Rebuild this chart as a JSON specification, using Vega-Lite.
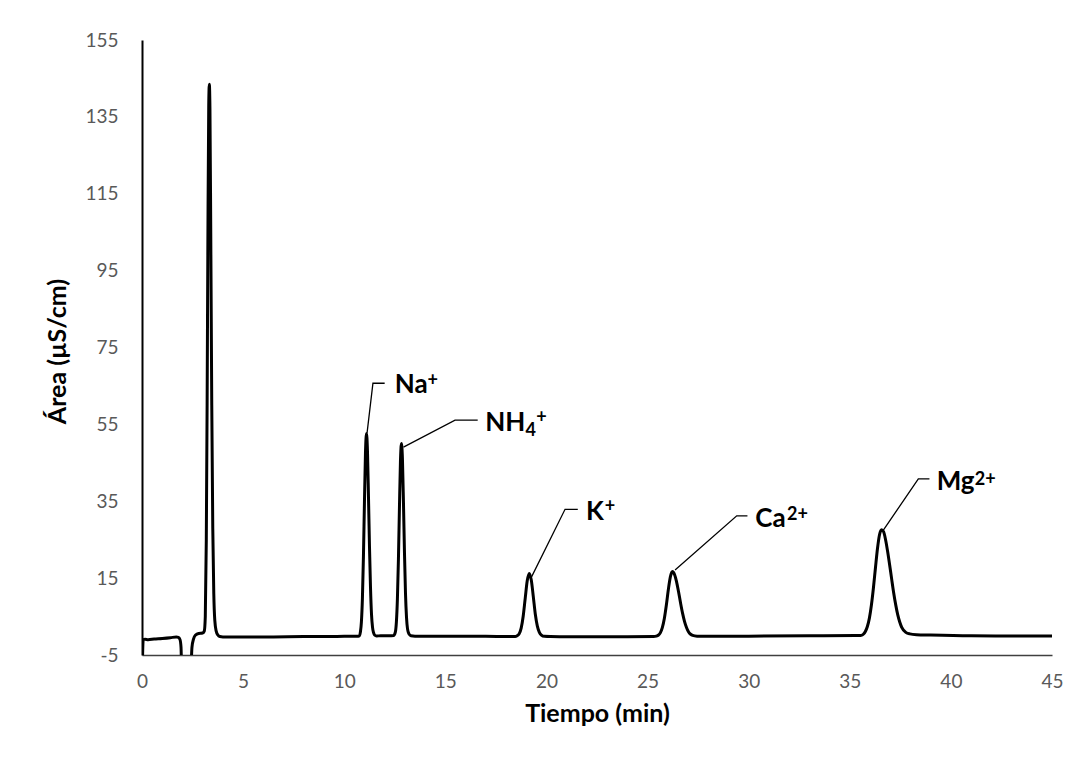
{
  "$schema": "https://vega.github.io/schema/vega-lite/v6.json",
  "width": 910,
  "height": 615,
  "autosize": {"type": "none"},
  "padding": {"left": 142, "top": 40, "right": 26, "bottom": 111},
  "background": "white",
  "config": {"view": {"stroke": null}, "font": "Lato"},
  "datasets": {
    "trace": [
      {"t": 0.02, "v": -7}, {"t": 0.06, "v": -1.0}, {"t": 0.15, "v": -0.9}, {"t": 0.3, "v": -1.0},
      {"t": 0.6, "v": -0.85}, {"t": 1.0, "v": -0.7}, {"t": 1.4, "v": -0.5}, {"t": 1.7, "v": -0.3},
      {"t": 1.8, "v": -0.4}, {"t": 1.88, "v": -1.0}, {"t": 1.93, "v": -3}, {"t": 1.96, "v": -8},
      {"t": 2.42, "v": -8}, {"t": 2.47, "v": -3}, {"t": 2.55, "v": -0.8}, {"t": 2.65, "v": 0.2},
      {"t": 2.8, "v": 0.6}, {"t": 3.0, "v": 0.7}, {"t": 3.08, "v": 1.2}, {"t": 3.13, "v": 5},
      {"t": 3.18, "v": 25}, {"t": 3.22, "v": 60}, {"t": 3.26, "v": 105}, {"t": 3.3, "v": 138},
      {"t": 3.33, "v": 143.5}, {"t": 3.36, "v": 137}, {"t": 3.4, "v": 105}, {"t": 3.45, "v": 60},
      {"t": 3.5, "v": 28}, {"t": 3.55, "v": 11}, {"t": 3.6, "v": 4}, {"t": 3.67, "v": 1.2},
      {"t": 3.75, "v": 0.2}, {"t": 3.85, "v": -0.2}, {"t": 4.0, "v": -0.3}, {"t": 6.0, "v": -0.3},
      {"t": 8.0, "v": -0.2}, {"t": 10.0, "v": -0.15}, {"t": 10.6, "v": -0.1}, {"t": 10.7, "v": -0.1},
      {"t": 10.75, "v": 0.0}, {"t": 10.8, "v": 1.0}, {"t": 10.85, "v": 3.6}, {"t": 10.9, "v": 9.8},
      {"t": 10.95, "v": 20.6}, {"t": 11.0, "v": 34.7}, {"t": 11.05, "v": 47.4}, {"t": 11.1, "v": 52.6},
      {"t": 11.15, "v": 48}, {"t": 11.2, "v": 36}, {"t": 11.25, "v": 23}, {"t": 11.3, "v": 12.5},
      {"t": 11.35, "v": 5.5}, {"t": 11.4, "v": 2.2}, {"t": 11.45, "v": 0.8}, {"t": 11.5, "v": 0.2},
      {"t": 11.6, "v": -0.05}, {"t": 11.8, "v": 0.0}, {"t": 12.2, "v": 0.0}, {"t": 12.45, "v": 0.1},
      {"t": 12.53, "v": 1.0}, {"t": 12.58, "v": 3.6}, {"t": 12.63, "v": 9.6}, {"t": 12.68, "v": 19.8},
      {"t": 12.73, "v": 33.2}, {"t": 12.78, "v": 45.3}, {"t": 12.83, "v": 50}, {"t": 12.88, "v": 45.8},
      {"t": 12.93, "v": 34.5}, {"t": 12.98, "v": 21.5}, {"t": 13.03, "v": 11}, {"t": 13.08, "v": 4.8},
      {"t": 13.13, "v": 1.8}, {"t": 13.2, "v": 0.5}, {"t": 13.3, "v": 0.0}, {"t": 13.5, "v": -0.1},
      {"t": 15.0, "v": -0.1}, {"t": 17.0, "v": -0.15}, {"t": 18.45, "v": -0.2}, {"t": 18.55, "v": 0.0},
      {"t": 18.65, "v": 0.5}, {"t": 18.75, "v": 2.0}, {"t": 18.85, "v": 5.1}, {"t": 18.95, "v": 9.75},
      {"t": 19.05, "v": 14.3}, {"t": 19.15, "v": 16.2}, {"t": 19.25, "v": 14.5}, {"t": 19.35, "v": 10.2},
      {"t": 19.45, "v": 5.6}, {"t": 19.55, "v": 2.5}, {"t": 19.65, "v": 0.9}, {"t": 19.75, "v": 0.2},
      {"t": 19.9, "v": -0.15}, {"t": 20.2, "v": -0.2}, {"t": 22.0, "v": -0.25}, {"t": 24.0, "v": -0.25},
      {"t": 25.3, "v": -0.2}, {"t": 25.43, "v": -0.1}, {"t": 25.53, "v": 0.13}, {"t": 25.63, "v": 0.75},
      {"t": 25.73, "v": 2.1}, {"t": 25.83, "v": 4.5}, {"t": 25.93, "v": 8.0}, {"t": 26.03, "v": 12.1},
      {"t": 26.13, "v": 15.4}, {"t": 26.23, "v": 16.7}, {"t": 26.33, "v": 16.0}, {"t": 26.43, "v": 14.15},
      {"t": 26.53, "v": 11.5}, {"t": 26.63, "v": 8.6}, {"t": 26.73, "v": 5.9}, {"t": 26.83, "v": 3.7},
      {"t": 26.93, "v": 2.1}, {"t": 27.03, "v": 1.0}, {"t": 27.13, "v": 0.4}, {"t": 27.23, "v": 0.1},
      {"t": 27.45, "v": -0.1}, {"t": 27.8, "v": -0.15}, {"t": 30.0, "v": -0.1}, {"t": 33.0, "v": 0.0},
      {"t": 35.3, "v": 0.1}, {"t": 35.47, "v": 0.05}, {"t": 35.57, "v": 0.1}, {"t": 35.67, "v": 0.4},
      {"t": 35.77, "v": 1.1}, {"t": 35.87, "v": 2.4}, {"t": 35.97, "v": 4.6}, {"t": 36.07, "v": 8.0},
      {"t": 36.17, "v": 12.5}, {"t": 36.27, "v": 17.7}, {"t": 36.37, "v": 22.7}, {"t": 36.47, "v": 26.3},
      {"t": 36.57, "v": 27.6}, {"t": 36.67, "v": 27.1}, {"t": 36.77, "v": 25.0}, {"t": 36.87, "v": 22.0},
      {"t": 36.97, "v": 18.5}, {"t": 37.07, "v": 14.8}, {"t": 37.17, "v": 11.2}, {"t": 37.27, "v": 8.1},
      {"t": 37.37, "v": 5.5}, {"t": 37.47, "v": 3.6}, {"t": 37.57, "v": 2.2}, {"t": 37.77, "v": 0.9},
      {"t": 37.97, "v": 0.5}, {"t": 38.3, "v": 0.3}, {"t": 39.0, "v": 0.2}, {"t": 41.0, "v": 0.0},
      {"t": 43.0, "v": -0.05}, {"t": 45.0, "v": -0.05}
    ],
    "leaders": [
      {"ion": "Na", "seq": 1, "x": 11.13, "y": 52.8}, {"ion": "Na", "seq": 2, "x": 11.42, "y": 65.7}, {"ion": "Na", "seq": 3, "x": 12.0, "y": 65.7},
      {"ion": "NH4", "seq": 1, "x": 12.93, "y": 49.1}, {"ion": "NH4", "seq": 2, "x": 15.48, "y": 56.1}, {"ion": "NH4", "seq": 3, "x": 16.6, "y": 56.1},
      {"ion": "K", "seq": 1, "x": 19.27, "y": 15.4}, {"ion": "K", "seq": 2, "x": 20.92, "y": 32.9}, {"ion": "K", "seq": 3, "x": 21.55, "y": 32.9},
      {"ion": "Ca", "seq": 1, "x": 26.36, "y": 17.1}, {"ion": "Ca", "seq": 2, "x": 29.41, "y": 31.2}, {"ion": "Ca", "seq": 3, "x": 29.94, "y": 31.2},
      {"ion": "Mg", "seq": 1, "x": 36.66, "y": 27.5}, {"ion": "Mg", "seq": 2, "x": 38.39, "y": 40.8}, {"ion": "Mg", "seq": 3, "x": 38.94, "y": 40.8}
    ],
    "labels": [
      {"label": "Na", "x": 12.5, "y": 63.2},
      {"label": "NH", "x": 16.97, "y": 53.3},
      {"label": "K", "x": 21.95, "y": 30.0},
      {"label": "Ca", "x": 30.33, "y": 28.3},
      {"label": "Mg", "x": 39.3, "y": 37.9}
    ],
    "sups": [
      {"label": "+", "x": 14.12, "y": 65.0},
      {"label": "+", "x": 19.5, "y": 55.4},
      {"label": "+", "x": 22.88, "y": 32.2},
      {"label": "2+", "x": 31.9, "y": 30.1},
      {"label": "2+", "x": 41.18, "y": 39.2}
    ],
    "subs": [
      {"label": "4", "x": 18.96, "y": 52.0}
    ]
  },
  "layer": [
    {
      "data": {"name": "trace"},
      "mark": {"type": "line", "color": "black", "strokeWidth": 3, "clip": true, "interpolate": "monotone", "strokeJoin": "round"},
      "encoding": {
        "x": {
          "field": "t", "type": "quantitative",
          "scale": {"domain": [0, 45], "nice": false, "zero": false},
          "axis": {
            "values": [0, 5, 10, 15, 20, 25, 30, 35, 40, 45],
            "title": "Tiempo (min)", "grid": false, "ticks": false, "tickSize": 0,
            "domainColor": "#404040", "domainWidth": 1.5,
            "labelFont": "Lato", "labelFontSize": 19, "labelColor": "#595959", "labelPadding": 17, "labelFlush": false,
            "titleFont": "Lato", "titleFontSize": 25, "titleFontWeight": "bold", "titleColor": "black",
            "titleY": 58, "titleBaseline": "middle"
          }
        },
        "y": {
          "field": "v", "type": "quantitative",
          "scale": {"domain": [-5, 155], "nice": false, "zero": false},
          "axis": {
            "values": [-5, 15, 35, 55, 75, 95, 115, 135, 155],
            "labelExpr": "'' + datum.value",
            "title": "Área (µS/cm)", "grid": false, "ticks": false, "tickSize": 0,
            "domainColor": "black", "domainWidth": 2,
            "labelFont": "Lato", "labelFontSize": 19, "labelColor": "#595959", "labelPadding": 24, "labelFlush": false,
            "titleFont": "Lato", "titleFontSize": 25, "titleFontWeight": "bold", "titleColor": "black",
            "titleX": -85, "titleY": 311, "titleBaseline": "middle"
          }
        }
      }
    },
    {
      "data": {"name": "leaders"},
      "mark": {"type": "line", "color": "black", "strokeWidth": 1.3},
      "encoding": {
        "x": {"field": "x", "type": "quantitative"},
        "y": {"field": "y", "type": "quantitative"},
        "detail": {"field": "ion"},
        "order": {"field": "seq"}
      }
    },
    {
      "data": {"name": "labels"},
      "mark": {"type": "text", "align": "left", "baseline": "alphabetic", "font": "Lato", "fontWeight": "bold", "fontSize": 26, "color": "black"},
      "encoding": {
        "x": {"field": "x", "type": "quantitative"},
        "y": {"field": "y", "type": "quantitative"},
        "text": {"field": "label"}
      }
    },
    {
      "data": {"name": "sups"},
      "mark": {"type": "text", "align": "left", "baseline": "alphabetic", "font": "Lato", "fontWeight": "bold", "fontSize": 18, "color": "black"},
      "encoding": {
        "x": {"field": "x", "type": "quantitative"},
        "y": {"field": "y", "type": "quantitative"},
        "text": {"field": "label"}
      }
    },
    {
      "data": {"name": "subs"},
      "mark": {"type": "text", "align": "left", "baseline": "alphabetic", "font": "Lato", "fontWeight": "bold", "fontSize": 18, "color": "black"},
      "encoding": {
        "x": {"field": "x", "type": "quantitative"},
        "y": {"field": "y", "type": "quantitative"},
        "text": {"field": "label"}
      }
    }
  ]
}
